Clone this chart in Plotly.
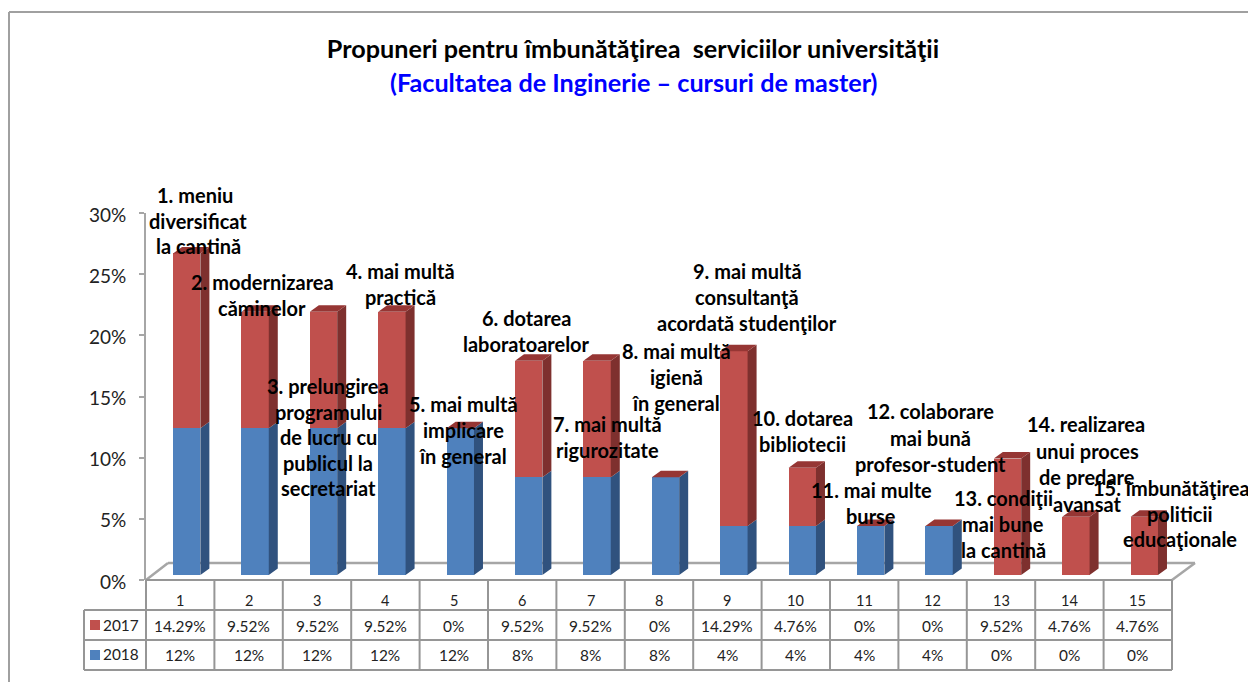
import plotly.graph_objects as go

# ---- data ----
categories = list(range(1, 16))
series_2017 = [14.29, 9.52, 9.52, 9.52, 0, 9.52, 9.52, 0, 14.29, 4.76, 0, 0, 9.52, 4.76, 4.76]
series_2018 = [12, 12, 12, 12, 12, 8, 8, 8, 4, 4, 4, 4, 0, 0, 0]
y_ticks = [0, 5, 10, 15, 20, 25, 30]
title_1 = "Propuneri pentru îmbunătăţirea\u00a0 serviciilor universităţii"
title_2 = "(Facultatea de Inginerie – cursuri de master)"
labels = [
    ["1. meniu", "diversificat", "la cantină"],
    ["2. modernizarea", "căminelor"],
    ["3. prelungirea", "programului", "de lucru cu", "publicul la", "secretariat"],
    ["4. mai multă", "practică"],
    ["5. mai multă", "implicare", "în general"],
    ["6. dotarea", "laboratoarelor"],
    ["7. mai multă", "rigurozitate"],
    ["8. mai multă", "igienă", "în general"],
    ["9. mai multă", "consultanţă", "acordată studenţilor"],
    ["10. dotarea", "bibliotecii"],
    ["11. mai multe", "burse"],
    ["12. colaborare", "mai bună", "profesor-student"],
    ["13. condiţii", "mai bune", "la cantină"],
    ["14. realizarea", "unui proces", "de predare", "avansat"],
    ["15. îmbunătăţirea", "politicii", "educaţionale"],
]
# label placement in page pixels: centre x, y of the first line, line pitch, first-line x shift
label_pos = [
    (198, 195, 25.5, -3), (262, 282, 26, 0), (328, 386, 25.5, 0), (400, 271, 26, 0), (463, 404, 26, 0),
    (526, 318, 26, 0), (607, 424, 26, 0), (676, 351, 26, 0), (747, 271, 26, 0), (802, 418, 26, 0),
    (871, 490, 26, 0), (930.5, 411, 26.5, 0), (1003, 498, 26, 0), (1087, 424, 26.5, -1), (1180, 488, 25.5, -9),
]

# ---- layout constants ----
W, H = 1248, 682
L, R, T, B = 146, 1172, 213, 580
PX_PER_CAT = (R - L) / 15
PX_PER_PCT = (B - T) / 30
BAR_LIFT = 5          # px the bar bases sit above the axis zero
DX, DY = 9, 6.5       # 3-D depth in px
FONT = "Lato, Carlito, Calibri, sans-serif"
RED, BLUE = "#C0504D", "#4F81BD"
RED_SIDE, BLUE_SIDE = "#7E302E", "#30527E"
RED_TOP = "#963634"
GRID = "#A6A6A6"
TABLE = "#969696"
bar_offset, bar_width = -0.105, 0.40

dx, dy = DX / PX_PER_CAT, DY / PX_PER_PCT


def px(x):
    return (x - L) / (R - L)


def py(y):
    return (B - y) / (B - T)


def side(x, lo, hi):
    r = x + bar_offset + bar_width
    return [r, r + dx, r + dx, r, r, None], [lo, lo + dy, hi + dy, hi, lo, None]


def top(x, h):
    a = x + bar_offset
    b = a + bar_width
    return [a, b, b + dx, a + dx, a, None], [h, h, h + dy, h + dy, h, None]


bs_x, bs_y, rs_x, rs_y, tp_x, tp_y = [], [], [], [], [], []
for c, a, b in zip(categories, series_2018, series_2017):
    if a > 0:
        X, Y = side(c, 0, a)
        bs_x += X
        bs_y += Y
    if b > 0:
        X, Y = side(c, a, a + b)
        rs_x += X
        rs_y += Y
    X, Y = top(c, a + b)
    tp_x += X
    tp_y += Y

fig = go.Figure()
fig.add_bar(x=categories, y=series_2018, name="2018", marker=dict(color=BLUE, line_width=0),
            offset=bar_offset, width=bar_width)
fig.add_bar(x=categories, y=series_2017, name="2017", marker=dict(color=RED, line_width=0),
            offset=bar_offset, width=bar_width)
for xs, ys, col in ((bs_x, bs_y, BLUE_SIDE), (rs_x, rs_y, RED_SIDE), (tp_x, tp_y, RED_TOP)):
    fig.add_scatter(x=xs, y=ys, mode="lines", fill="toself", fillcolor=col,
                    line=dict(width=0, color=col), hoverinfo="skip", showlegend=False)
# keeps the tick axis alive
fig.add_scatter(x=[1], y=[0], yaxis="y2", mode="markers", marker_opacity=0,
                hoverinfo="skip", showlegend=False)

shapes = []


def line(x0, y0, x1, y1, color, w=2, layer="above"):
    shapes.append(dict(type="line", xref="paper", yref="paper", x0=px(x0), y0=py(y0),
                       x1=px(x1), y1=py(y1), line=dict(color=color, width=w), layer=layer))


# chart frame
line(9, 12, 1248, 12, "#A0A0A0")
line(9, 12, 9, 682, "#A0A0A0")
# floor
line(146, 580, 168, 563, GRID, 2.5, "below")
line(168, 563, 1195, 563, GRID, 2.5, "below")
line(1195, 563, 1172, 580, GRID, 2.5, "below")
# table
col_edges = [L + i * PX_PER_CAT for i in range(16)]
line(L, 580, R, 580, TABLE)
line(84, 610, R, 610, TABLE)
line(84, 640, R, 640, TABLE)
line(84, 670, R, 670, TABLE)
line(84, 610, 84, 670, TABLE)
for e in col_edges:
    line(e, 580, e, 670, TABLE)
for yy, col in ((620, RED), (650, BLUE)):
    shapes.append(dict(type="rect", xref="paper", yref="paper", x0=px(90), x1=px(100),
                       y0=py(yy), y1=py(yy + 10), fillcolor=col, line_width=0))

ann = []


def text(x, y, s, size, color="#000000", bold=False):
    ann.append(dict(xref="paper", yref="paper", x=px(x), y=py(y), text=f"<b>{s}</b>" if bold else s,
                    showarrow=False, xanchor="center", yanchor="middle",
                    font=dict(family=FONT, size=size, color=color)))


text(633, 81.5, title_2, 25.2, "#0000FF", True)
for lines, (cx, y0, pitch, first_shift) in zip(labels, label_pos):
    for i, s in enumerate(lines):
        text(cx + (first_shift if i == 0 else 0), y0 + i * pitch, s, 20, bold=True)

TS = 15.4
text(121, 625, "2017", TS, "#222222")
text(121, 654, "2018", TS, "#222222")
for c, a, b in zip(categories, series_2018, series_2017):
    cx = L + (c - 0.5) * PX_PER_CAT
    text(cx, 600, str(c), 14.5, "#222222")
    text(cx, 626, f"{b:g}%", TS, "#222222")
    text(cx, 655, f"{a:g}%", TS, "#222222")

fig.update_layout(
    width=W, height=H, autosize=False,
    margin=dict(l=L, r=W - R, t=T, b=H - B, pad=0),
    paper_bgcolor="white", plot_bgcolor="rgba(0,0,0,0)",
    barmode="stack", showlegend=False,
    title=dict(text=f"<b>{title_1}</b>", x=633 / W, xanchor="center", y=1 - 49 / H, yanchor="middle",
               font=dict(family=FONT, size=25.2, color="#000000")),
    xaxis=dict(range=[0.5, 15.5], visible=False, fixedrange=True),
    yaxis=dict(range=[-BAR_LIFT / PX_PER_PCT, 30 - BAR_LIFT / PX_PER_PCT], visible=False, fixedrange=True),
    yaxis2=dict(range=[0, 30], overlaying="y", side="left", tickmode="array", tickvals=y_ticks,
                ticktext=[f"{t}%" for t in y_ticks],
                showgrid=False, zeroline=False, showline=True, linecolor=GRID,
                linewidth=2, ticks="outside", ticklen=5, tickcolor=GRID, tickwidth=1.5,
                ticklabelstandoff=9, ticklabelshift=2,
                tickfont=dict(family=FONT, size=19, color="#222222"), fixedrange=True),
    shapes=shapes, annotations=ann,
)
fig.write_html("out.html", post_script="document.body.style.margin='0';document.documentElement.style.overflow='hidden';",
               config=dict(displayModeBar=False))
